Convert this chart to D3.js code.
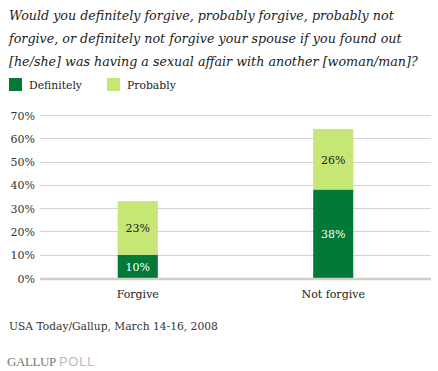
<!DOCTYPE html>
<html>
<head>
<meta charset="utf-8">
<script src="https://cdn.jsdelivr.net/npm/d3@7"></script>
<style>
body { margin: 0; background: #fff; }
</style>
</head>
<body>
<div id="vis"></div>
<script>
const width = 438;
const height = 371;

const categories = ["Forgive", "Not forgive"];
const series = ["Definitely", "Probably"];
const definitely = [10, 38];
const probably = [23, 26];
const yTicks = [0, 10, 20, 30, 40, 50, 60, 70];
const colors = ["#007a36", "#c6e675"];
const titleLines = [
	"Would you definitely forgive, probably forgive, probably not",
	"forgive, or definitely not forgive your spouse if you found out",
	"[he/she] was having a sexual affair with another [woman/man]?"
];
const source = "USA Today/Gallup, March 14-16, 2008";

const margin = {top: 115, right: 7, bottom: 93, left: 40};

const svg = d3.select("div#vis")
	.append("svg")
	.attr("width", width)
	.attr("height", height)
	.attr("font-family", "DejaVu Serif, serif");

// title
svg.append("g")
	.selectAll("text")
	.data(titleLines)
	.enter()
	.append("text")
		.attr("x", 9)
		.attr("y", (d, i) => 20 + i * 23)
		.attr("font-size", 12.7)
		.attr("font-style", "italic")
		.attr("fill", "#222")
		.text(d => d);

// legend
const legend = svg.append("g")
	.selectAll("g")
	.data(series)
	.enter()
	.append("g")
		.attr("transform", (d, i) => `translate(${9 + i * 98}, 78)`);

legend.append("rect")
	.attr("width", 13)
	.attr("height", 13)
	.attr("fill", (d, i) => colors[i]);

legend.append("text")
	.attr("x", 20)
	.attr("y", 11)
	.attr("font-size", 10.8)
	.attr("fill", "#222")
	.text(d => d);

const w = width - margin.left - margin.right;

const x = d3.scaleBand()
	.domain(categories)
	.range([0, w])
	.paddingInner(0.795)
	.paddingOuter(0.3977);

const y = d3.scaleLinear()
	.domain([0, 70])
	.range([278 - margin.top, 0]);

const g = svg.append("g")
	.attr("transform", `translate(${margin.left}, ${margin.top})`);

// grid
g.selectAll("line.grid")
	.data(yTicks.slice(1))
	.enter()
	.append("line")
		.classed("grid", true)
		.attr("x1", 0)
		.attr("x2", w)
		.attr("y1", d => Math.round(y(d)) + 0.5)
		.attr("y2", d => Math.round(y(d)) + 0.5)
		.attr("stroke", "#d4d4d4")
		.attr("stroke-width", 1);

g.selectAll("text.tick")
	.data(yTicks)
	.enter()
	.append("text")
		.classed("tick", true)
		.attr("x", -5)
		.attr("y", d => y(d) + 4.5)
		.attr("text-anchor", "end")
		.attr("font-size", 11)
		.attr("fill", "#333")
		.text(d => d + "%");

// stacked bars
const stackData = categories.map((c, i) => ({cat: c, Definitely: definitely[i], Probably: probably[i]}));
const stacked = d3.stack().keys(series)(stackData);

const layers = g.selectAll("g.layer")
	.data(stacked)
	.enter()
	.append("g")
		.classed("layer", true)
		.attr("fill", (d, i) => colors[i]);

layers.selectAll("rect")
	.data(d => d)
	.enter()
	.append("rect")
		.attr("x", d => x(d.data.cat))
		.attr("y", d => y(d[1]))
		.attr("width", x.bandwidth())
		.attr("height", d => y(d[0]) - y(d[1]));

layers.selectAll("text")
	.data(d => d)
	.enter()
	.append("text")
		.attr("x", d => x(d.data.cat) + x.bandwidth() / 2)
		.attr("y", d => (y(d[0]) + y(d[1])) / 2 + 4.5)
		.attr("text-anchor", "middle")
		.attr("font-size", 11)
		.attr("fill", function () { return d3.select(this.parentNode).datum().key === "Definitely" ? "#fff" : "#222"; })
		.text(d => (d[1] - d[0]) + "%");

// baseline
g.append("line")
	.attr("x1", 0)
	.attr("x2", w)
	.attr("y1", y(0) + 1)
	.attr("y2", y(0) + 1)
	.attr("stroke", "#cfcfc8")
	.attr("stroke-width", 2.5);

// category axis
g.selectAll("text.cat")
	.data(categories)
	.enter()
	.append("text")
		.classed("cat", true)
		.attr("x", d => x(d) + x.bandwidth() / 2)
		.attr("y", y(0) + 20)
		.attr("text-anchor", "middle")
		.attr("font-size", 11)
		.attr("fill", "#222")
		.text(d => d);

// source
svg.append("text")
	.attr("x", 9)
	.attr("y", 330)
	.attr("font-size", 10.7)
	.attr("fill", "#333")
	.text(source);

const logo = svg.append("text")
	.attr("x", 7)
	.attr("y", 366)
	.attr("font-size", 12);
logo.append("tspan")
	.attr("fill", "#777")
	.attr("font-family", "Liberation Serif, serif")
	.attr("font-size", 13)
	.attr("letter-spacing", -0.4)
	.text("GALLUP");
logo.append("tspan")
	.attr("fill", "#bbb")
	.attr("font-family", "Liberation Sans, sans-serif")
	.attr("font-size", 13)
	.attr("letter-spacing", 0.8)
	.attr("dx", 3)
	.text("POLL");
</script>
</body>
</html>
